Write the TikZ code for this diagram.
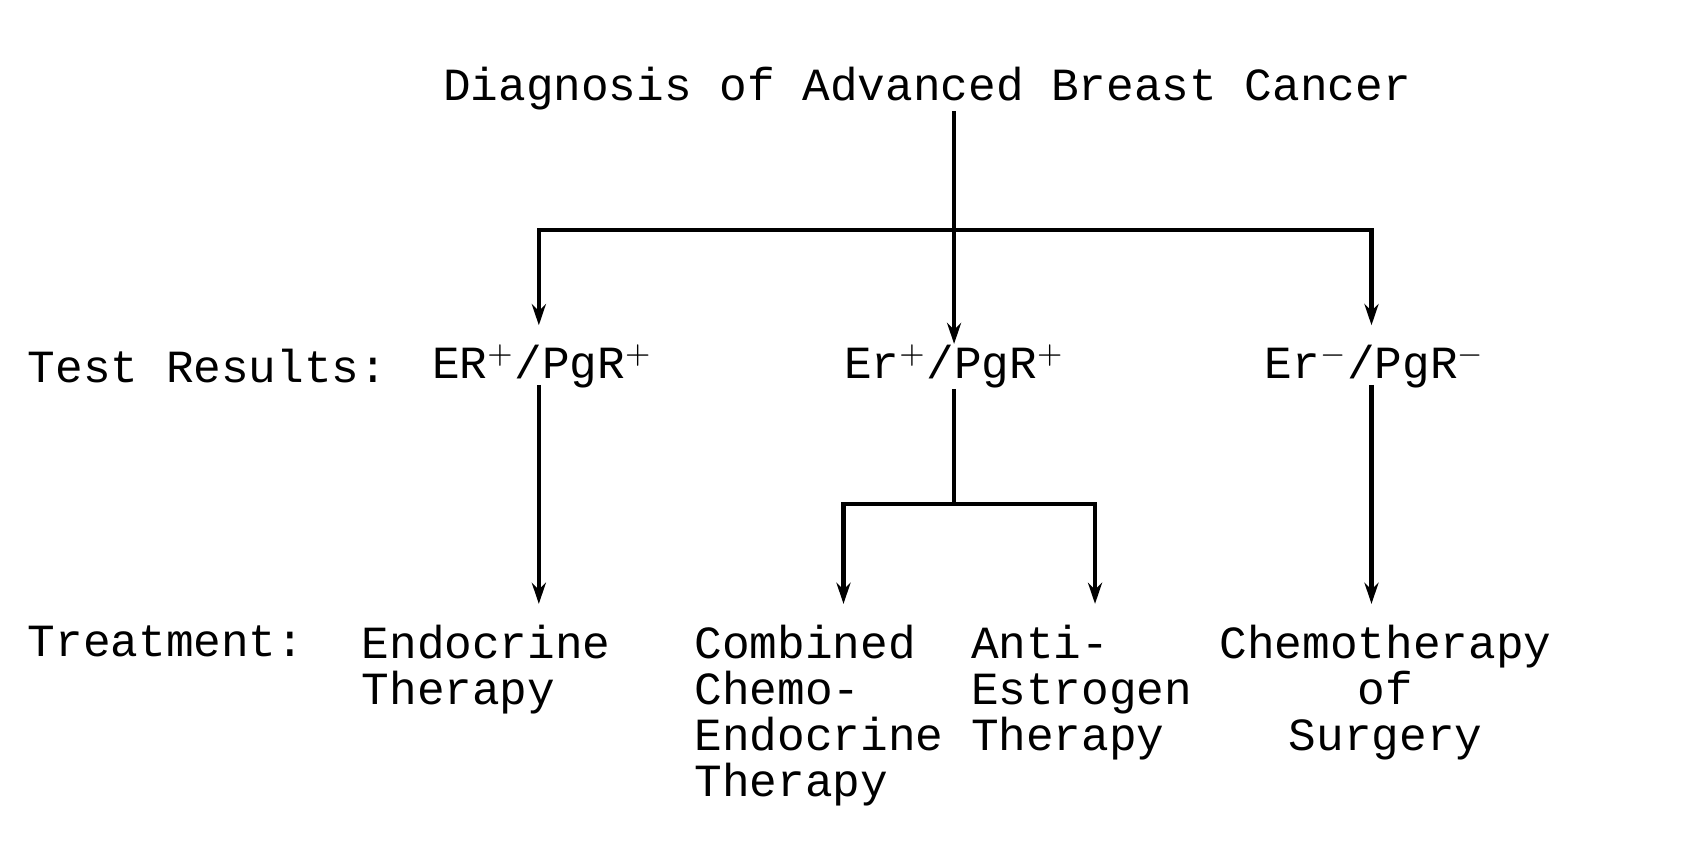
\documentclass[tikz,border=0pt]{standalone}
\usepackage{fontspec}
\setmainfont{Liberation Mono}
\usetikzlibrary{arrows.meta}
\begin{document}
\begin{tikzpicture}[x=0.01084cm,y=-0.01084cm,
	txt/.style={font=\fontsize{13.1}{13.1}\selectfont, inner sep=0pt},
	arr/.style={-{Stealth[length=6pt,width=4pt]}, line width=1.2pt}]
		\useasboundingbox (0,0) rectangle (1568,800);
		\node[txt] (diag) at (855,82) {Diagnosis of Advanced Breast Cancer};
		
		\node[txt, anchor=west] (test) at (25,338) {Test Results:};
		\node[txt] (r1) at (500,338) {ER$^+$/PgR$^+$};
		\node[txt] (r2) at (880,338) {Er$^+$/PgR$^+$};
		\node[txt] (r3) at (1268,338) {Er$^-$/PgR$^-$};
		
		\node[txt, anchor=west] (treat) at (25,592) {Treatment:};
		\node[txt, anchor=north west, align=left] (t1) at (333,576) {Endocrine\\Therapy};
		\node[txt, anchor=north west, align=left] (t2) at (640,576) {Combined\\Chemo-\\Endocrine\\Therapy};
		\node[txt, anchor=north west, align=left] (t3) at (895,576) {Anti-\\Estrogen\\Therapy};
		\node[txt, anchor=north, align=center] (t4) at (1278,576) {Chemotherapy\\of\\Surgery};
		
		\coordinate (split) at (880,212);
		\coordinate (split2) at (880,465);
		
		\draw[arr] (diag.south -| split) -- (r2.north);
		\draw[arr] (split) -- (497,212) -- (497,300);
		\draw[arr] (split) -- (1265,212) -- (1265,300);
		\draw[arr] (497,355) -- (497,557);
		\draw[arr] (1265,355) -- (1265,557);
		\draw[line width=1.2pt] (r2.south) -- (split2);
		\draw[arr] (split2) -- (778,465) -- (778,557);
		\draw[arr] (split2) -- (1010,465) -- (1010,557);
		
		\end{tikzpicture}
\end{document}
